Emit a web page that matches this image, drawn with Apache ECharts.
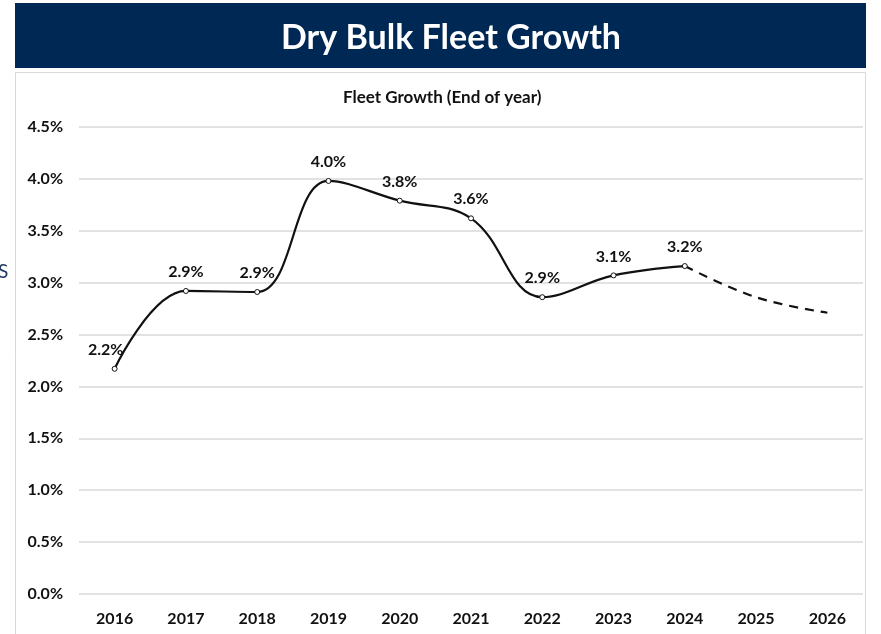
<!DOCTYPE html>
<html>
<head>
<meta charset="utf-8">
<script src="https://cdn.jsdelivr.net/npm/echarts@6/dist/echarts.min.js"></script>
<style>
  html, body { margin: 0; padding: 0; background: #fff; }
  #chart { width: 881px; height: 634px; }
</style>
</head>
<body>
<div id="chart"></div>
<script>
// years on the x axis
var years = ['2016', '2017', '2018', '2019', '2020', '2021', '2022', '2023', '2024', '2025', '2026'];
// actual growth (%), solid line
var actual = [2.17, 2.92, 2.91, 3.98, 3.79, 3.62, 2.86, 3.07, 3.16, null, null];
// projection (%), dashed line, starts from 2024
var projected = [null, null, null, null, null, null, null, null, 3.16, 2.86, 2.71];

var font = 'Lato, "Open Sans", sans-serif';
var chart = echarts.init(document.getElementById('chart'));

// first label sits a little to the left, as in the original
var actualData = actual.map(function (v, i) {
    if (i === 0) return { value: v, label: { offset: [-9, 0] } };
    return v;
});

var option = {
    animation: false,
    title: {
        text: 'Dry Bulk Fleet Growth',
        left: 446,
        top: 16,
        textAlign: 'center',
        textStyle: { color: '#fff', fontSize: 34, fontWeight: 'bold', fontFamily: font }
    },
    graphic: [
        { type: 'rect', z: -1, shape: { x: 15, y: 3, width: 851, height: 65 }, style: { fill: '#002855' } },
        { type: 'rect', z: -1, shape: { x: 15.5, y: 72.5, width: 850, height: 570 }, style: { fill: 'none', stroke: '#d9d9d9', lineWidth: 1 } },
        { type: 'text', left: 343, top: 89, style: { text: 'Fleet Growth (End of year)', fill: '#111', font: 'bold 17px ' + font } },
        { type: 'text', left: -2, top: 262, style: { text: 'S', fill: '#1f3864', font: '19px ' + font } }
    ],
    grid: { left: 79, right: 18, top: 127, bottom: 40 },
    xAxis: {
        type: 'category',
        data: years,
        axisLine: { show: false },
        axisTick: { show: false },
        axisLabel: { color: '#111', fontWeight: 'bold', fontSize: 16, fontFamily: font, margin: 17 }
    },
    yAxis: {
        type: 'value',
        min: 0,
        max: 4.5,
        interval: 0.5,
        axisLine: { show: false },
        axisTick: { show: false },
        splitLine: { lineStyle: { color: '#d9d9d9', width: 1.5 } },
        axisLabel: {
            color: '#111', fontWeight: 'bold', fontSize: 16, fontFamily: font, margin: 16,
            formatter: function (v) { return v.toFixed(1) + '%'; }
        }
    },
    series: [
        {
            type: 'line',
            data: actualData,
            smooth: 0.4,
            symbol: 'circle',
            symbolSize: 5,
            itemStyle: { color: '#fff', borderColor: '#111', borderWidth: 1 },
            lineStyle: { color: '#111', width: 2.2 },
            label: {
                show: true,
                position: 'top',
                distance: 8,
                color: '#111',
                fontWeight: 'bold',
                fontSize: 16,
                fontFamily: font,
                formatter: function (p) { return p.value.toFixed(1) + '%'; }
            },
            z: 3
        },
        {
            type: 'line',
            data: projected,
            smooth: 0.4,
            showSymbol: false,
            lineStyle: { color: '#111', width: 2.2, type: [9, 7] },
            z: 2
        }
    ]
};
chart.setOption(option);
</script>
</body>
</html>
